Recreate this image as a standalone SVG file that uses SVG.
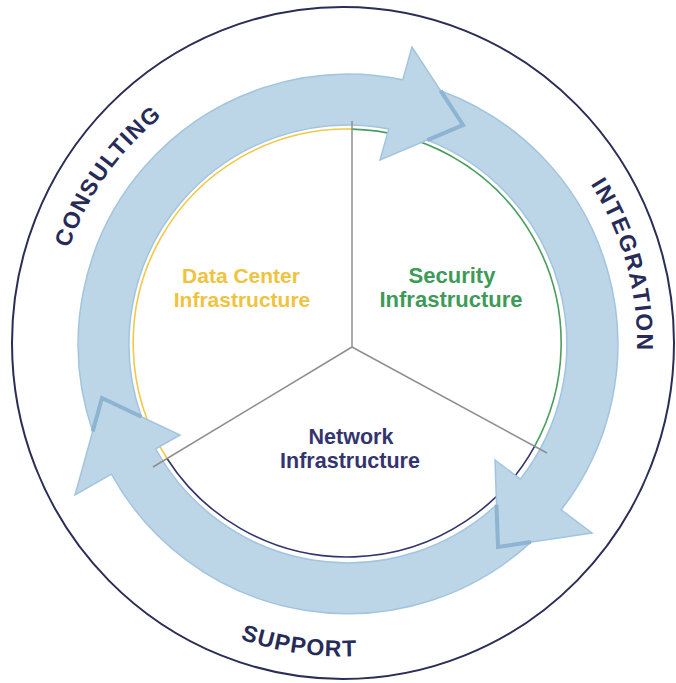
<svg xmlns="http://www.w3.org/2000/svg" width="676" height="683" viewBox="0 0 676 683">
  <style>
    .ring-label { font-family: "Liberation Sans", Arial, sans-serif; font-weight: bold; font-size: 23px; fill: #272b58; text-anchor: middle; }
    .sector { font-family: "Liberation Sans", Arial, sans-serif; font-weight: bold; text-anchor: middle; }
    .band { fill: #bcd5e7; stroke: #a2c5df; stroke-width: 1.5; stroke-linejoin: miter; }
    .notch { fill: none; stroke: #8db4d3; stroke-width: 4; stroke-linejoin: miter; }
    .divider { stroke: #8f8f8f; stroke-width: 1.5; fill: none; }
    .rim { fill: none; stroke-width: 1.6; }
  </style>
  <defs>
    <path id="arc-consulting" d="M 57.4 393.4 A 290 290 0 0 1 292.6 57.4"/>
    <path id="arc-integration" d="M 490 88.4 A 294 294 0 0 1 597.6 490"/>
    <path id="arc-support" d="M 102.9 544.5 A 313.5 313.5 0 0 0 544.5 583.1"/>
  </defs>

  <rect width="676" height="683" fill="#ffffff"/>

  <!-- outer boundary -->
  <ellipse id="outer-ring" cx="343" cy="343" rx="331" ry="336" fill="none" stroke="#2a2d55" stroke-width="2"/>

  <!-- service labels around the rim -->
  <g id="label-consulting">
    <text class="ring-label" letter-spacing="1.4"><textPath href="#arc-consulting" startOffset="229.3">CONSULTING</textPath></text>
  </g>
  <g id="label-integration">
    <text class="ring-label" letter-spacing="1.8"><textPath href="#arc-integration" startOffset="228.3">INTEGRATION</textPath></text>
  </g>
  <g id="label-support">
    <text class="ring-label" letter-spacing="1.1"><textPath href="#arc-support" startOffset="228.4">SUPPORT</textPath></text>
  </g>

  <!-- central disc with coloured sector rims -->
  <g id="hub">
    <circle cx="347" cy="343" r="214" fill="#ffffff"/>
    <path class="rim" stroke="#f2c84a" d="M 167 458.5 A 214 214 0 0 1 352 129.1"/>
    <path class="rim" stroke="#4b9c5e" d="M 352 129.1 A 214 214 0 0 1 534.6 446.3"/>
    <path class="rim" stroke="#33346c" d="M 534.6 446.3 A 214 214 0 0 1 167 458.5"/>
  </g>

  <!-- cycle arrows -->
  <g id="connectors">
    <path id="arrow-consulting" class="band" d="M 92.7 431.5 L 102 398 L 141.4 416.7 A 219 219 0 0 1 388.8 128.9 L 380 160 L 463 125 L 412 47 L 402.8 79.7 A 270 270 0 0 0 92.7 431.5 Z"/>
    <path id="arrow-integration" class="band" d="M 440.6 90.7 L 463 125 L 427.3 140.1 A 219 219 0 0 1 520.3 479.1 L 495 460 L 498 547 L 592 533 L 561.2 509.8 A 270 270 0 0 0 440.6 90.7 Z"/>
    <path id="arrow-support" class="band" d="M 530.9 542.1 L 498 547 L 496.5 504.8 A 219 219 0 0 1 155.7 448.9 L 180 435 L 102 398 L 75 495 L 111.4 474.2 A 270 270 0 0 0 530.9 542.1 Z"/>
    <polyline class="notch" points="440.6,90.7 463,125 427.3,140.1"/>
    <polyline class="notch" points="530.9,542.1 498,547 496.5,504.8"/>
    <polyline class="notch" points="92.7,431.5 102,398 141.4,416.7"/>
  </g>

  <!-- sector dividers -->
  <g id="dividers">
    <line class="divider" x1="352" y1="347" x2="352" y2="121"/>
    <line class="divider" x1="352" y1="347" x2="153" y2="467"/>
    <line class="divider" x1="352" y1="347" x2="547" y2="453"/>
  </g>

  <g id="node-datacenter">
    <text class="sector" font-size="21" fill="#f0c33e" x="241" y="283">Data Center</text>
    <text class="sector" font-size="21" fill="#f0c33e" x="242" y="307">Infrastructure</text>
  </g>
  <g id="node-security">
    <text class="sector" font-size="22" fill="#3d9a57" x="452" y="283">Security</text>
    <text class="sector" font-size="22" fill="#3d9a57" x="451" y="307">Infrastructure</text>
  </g>
  <g id="node-network">
    <text class="sector" font-size="21.5" fill="#34346f" x="351" y="444">Network</text>
    <text class="sector" font-size="21.5" fill="#34346f" x="350" y="468">Infrastructure</text>
  </g>
</svg>
